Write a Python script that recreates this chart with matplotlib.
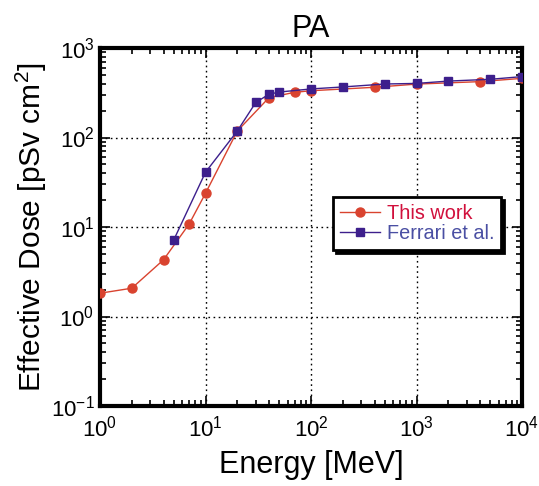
import matplotlib
matplotlib.use("Agg")
import matplotlib.pyplot as plt
from matplotlib.ticker import LogLocator, NullFormatter

plt.rcParams['font.family'] = ['Liberation Sans', 'DejaVu Sans']
plt.rcParams['mathtext.fontset'] = 'custom'
plt.rcParams['mathtext.rm'] = 'Liberation Sans'
plt.rcParams['mathtext.it'] = 'Liberation Sans'
plt.rcParams['mathtext.bf'] = 'Liberation Sans'

# Data
this_energy = [1, 2, 4, 7, 10, 20, 40, 70, 100, 400, 1000, 4000, 10000]
this_dose = [1.82, 2.07, 4.3, 10.8, 23.8, 118, 279, 320, 333, 364, 395, 421, 458]

ferrari_energy = [5, 10, 20, 30, 40, 50, 100, 200, 500, 1000, 2000, 5000, 10000]
ferrari_dose = [7.16, 40.9, 118, 247, 304, 322, 349, 367, 396, 402, 427, 447, 479]

title = "PA"
xlabel = "Energy [MeV]"
ylabel = "Effective Dose [pSv cm$^2$]"

fig = plt.figure(figsize=(5.39, 4.86), dpi=100)
ax = fig.add_axes([100/539, 1 - 406/486, 422/539, 358/486])

red = '#d9432f'
blue = '#3d1f8c'
ax.plot(this_energy, this_dose, '-o', color=red, lw=1.0, ms=6.5, label='This work', zorder=3)
ax.plot(ferrari_energy, ferrari_dose, '-s', color=blue, lw=1.0, ms=6.0, label='Ferrari et al.', zorder=4)

ax.set_xscale('log')
ax.set_yscale('log')
ax.set_xlim(1, 1e4)
ax.set_ylim(0.1, 1000)

ax.xaxis.set_major_locator(LogLocator(base=10, numticks=10))
ax.yaxis.set_major_locator(LogLocator(base=10, numticks=10))
ax.xaxis.set_minor_locator(LogLocator(base=10, subs=range(2, 10), numticks=20))
ax.yaxis.set_minor_locator(LogLocator(base=10, subs=range(2, 10), numticks=20))
ax.xaxis.set_minor_formatter(NullFormatter())
ax.yaxis.set_minor_formatter(NullFormatter())

ax.grid(True, which='major', color='black', linestyle=(0, (1.2, 2.5)), lw=1.0)
ax.tick_params(which='both', direction='in', top=True, right=True, labelsize=16, width=1.2)
ax.tick_params(which='major', length=7)
ax.tick_params(which='minor', length=4)
ax.tick_params(axis='x', pad=7)
ax.tick_params(axis='y', pad=4)
for s in ax.spines.values():
    s.set_linewidth(3)

ax.set_title(title, fontsize=22, pad=8)
ax.set_xlabel(xlabel, fontsize=22, labelpad=6)
ax.set_ylabel(ylabel, fontsize=21.5, labelpad=1)

leg = ax.legend(loc='upper left', bbox_to_anchor=(233/422, 1 - 149/358), fontsize=14.3,
                frameon=True, fancybox=False, shadow={'color': 'black', 'alpha': 1.0},
                borderpad=0.35, handlelength=2.0, handletextpad=0.35, labelspacing=0.05,
                borderaxespad=0)
leg.get_frame().set_edgecolor('black')
leg.get_frame().set_linewidth(2)
leg.get_texts()[0].set_color('#d1103c')
leg.get_texts()[1].set_color('#4a4fa3')

fig.savefig('out.png', dpi=100)
